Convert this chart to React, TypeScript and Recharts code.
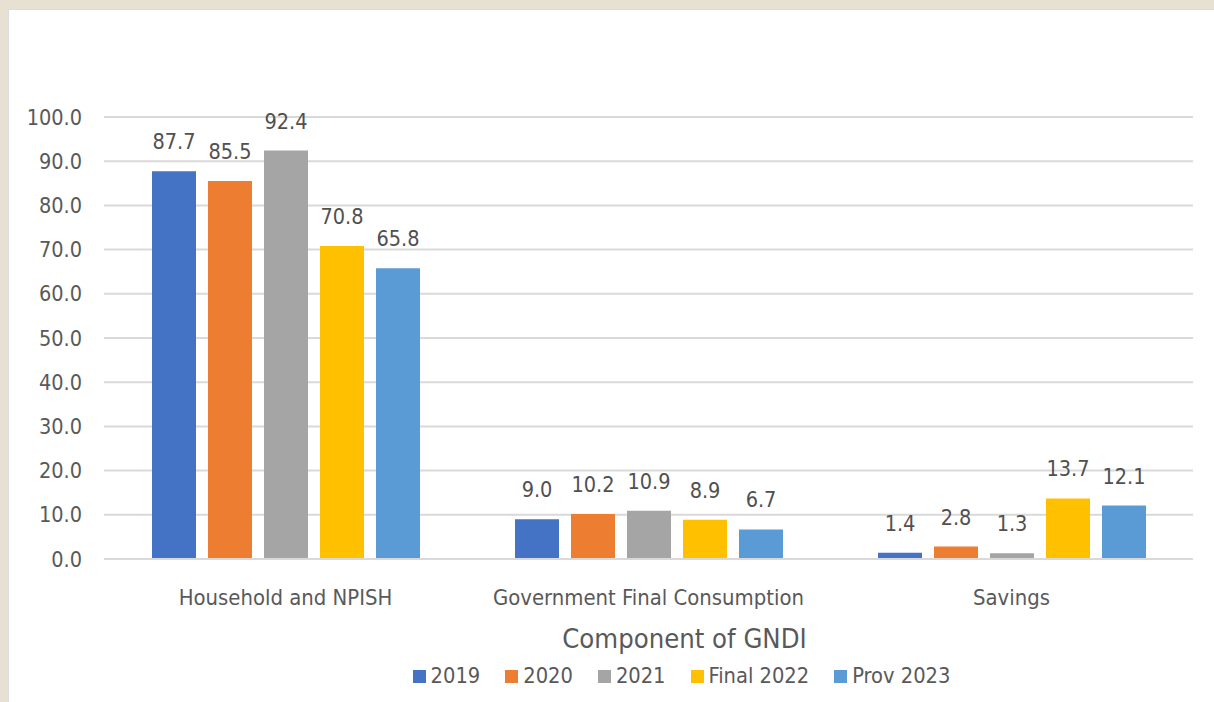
import React from 'react';
import {
  BarChart,
  Bar,
  XAxis,
  YAxis,
  CartesianGrid,
  Legend,
  LabelList,
  Label,
} from 'recharts';

// Components of GNDI, as a share (%)
const categories = ['Household and NPISH', 'Government Final Consumption', 'Savings'];
const values2019 = [87.7, 9.0, 1.4];
const values2020 = [85.5, 10.2, 2.8];
const values2021 = [92.4, 10.9, 1.3];
const valuesFinal2022 = [70.8, 8.9, 13.7];
const valuesProv2023 = [65.8, 6.7, 12.1];
const seriesNames = ['2019', '2020', '2021', 'Final 2022', 'Prov 2023'];
const yTicks = [0, 10, 20, 30, 40, 50, 60, 70, 80, 90, 100];

const seriesKeys = ['s2019', 's2020', 's2021', 'sFinal2022', 'sProv2023'];
const seriesValues = [values2019, values2020, values2021, valuesFinal2022, valuesProv2023];
const seriesColors = ['#4472c4', '#ed7d31', '#a5a5a5', '#ffc000', '#5b9bd5'];

const data = categories.map((name, i) => {
  const row: Record<string, string | number> = { name };
  seriesKeys.forEach((k, j) => {
    row[k] = seriesValues[j][i];
  });
  return row;
});

const FONT = "'DejaVu Sans Condensed', 'Liberation Sans Narrow', sans-serif";
const TEXT = '#595959';
const GRID = '#d9d9d9';

const fmt = (v: any) => Number(v).toFixed(1);

const renderLegend = (props: any) => {
  const payload = props.payload || [];
  return (
    <div
      style={{
        display: 'flex',
        justifyContent: 'center',
        alignItems: 'center',
        height: 40,
        paddingLeft: 161,
        paddingBottom: 12,
        boxSizing: 'border-box',
        fontFamily: FONT,
      }}
    >
      {payload.map((entry: any, i: number) => (
        <div
          key={entry.value}
          style={{
            display: 'flex',
            alignItems: 'center',
            marginRight: i === payload.length - 1 ? 0 : 25,
          }}
        >
          <span
            style={{
              display: 'inline-block',
              width: 13,
              height: 13,
              background: entry.color,
              marginRight: 5,
            }}
          />
          <span style={{ fontSize: 21.7, color: TEXT, lineHeight: '28px' }}>
            {entry.value}
          </span>
        </div>
      ))}
    </div>
  );
};

export default function App() {
  return (
    <div
      style={{
        position: 'fixed',
        left: 0,
        top: 0,
        width: 1214,
        height: 702,
        background: '#e8e0d2',
        overflow: 'hidden',
      }}
    >
      <div
        style={{
          position: 'absolute',
          left: 8,
          top: 9,
          width: 1206,
          height: 693,
          background: '#ffffff',
          borderTop: '1px solid #dcdcdc',
          borderLeft: '1px solid #dcdcdc',
          boxSizing: 'border-box',
        }}
      >
        <BarChart
          width={1205}
          height={692}
          data={data}
          margin={{ top: 107, right: 21, bottom: 0, left: 0 }}
          barSize={44}
          barGap={12}
          style={{ fontFamily: FONT }}
        >
          <CartesianGrid vertical={false} stroke={GRID} strokeWidth={2} />
          <XAxis
            dataKey="name"
            height={103}
            tickLine={false}
            axisLine={{ stroke: GRID, strokeWidth: 2 }}
            tickMargin={24}
            tick={{ fill: TEXT, fontSize: 21.9 }}
            interval={0}
          >
            <Label
              value="Component of GNDI"
              position="insideBottom"
              offset={14}
              dx={36}
              style={{ fill: TEXT, fontSize: 27.2 }}
            />
          </XAxis>
          <YAxis
            width={95}
            domain={[0, 100]}
            ticks={yTicks}
            interval={0}
            tickFormatter={fmt}
            tickLine={false}
            axisLine={false}
            tickMargin={16}
            tick={{ fill: TEXT, fontSize: 21.5 }}
          />
          <Legend verticalAlign="bottom" content={renderLegend} />
          {seriesKeys.map((k, j) => (
            <Bar
              key={k}
              dataKey={k}
              name={seriesNames[j]}
              fill={seriesColors[j]}
              isAnimationActive={false}
            >
              <LabelList
                dataKey={k}
                position="top"
                offset={22}
                formatter={fmt}
                style={{ fill: '#505050', fontSize: 21.5 }}
              />
            </Bar>
          ))}
        </BarChart>
      </div>
    </div>
  );
}
